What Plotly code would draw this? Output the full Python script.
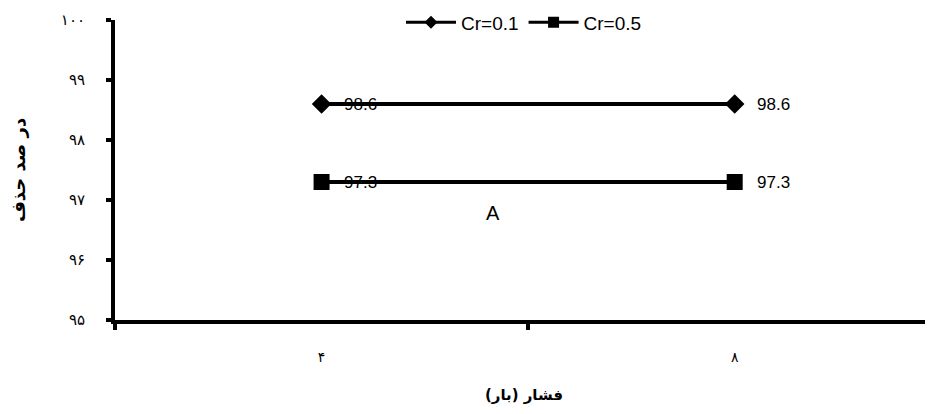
import plotly.graph_objects as go

# Data
pressure = ["۴", "۸"]
cr01 = [98.6, 98.6]
cr05 = [97.3, 97.3]
y_ticks = [95, 96, 97, 98, 99, 100]
y_tick_text = ["۹۵", "۹۶", "۹۷", "۹۸", "۹۹", "۱۰۰"]

serif = "DejaVu Sans, sans-serif"
sans = "Liberation Sans, Arial, sans-serif"

fig = go.Figure()
fig.add_trace(go.Scatter(
    x=pressure, y=cr01, name="Cr=0.1", mode="lines+markers", showlegend=False,
    line=dict(color="black", width=4),
    marker=dict(symbol="diamond", size=15, color="black"),
))
fig.add_trace(go.Scatter(
    x=pressure, y=cr05, name="Cr=0.5", mode="lines+markers", showlegend=False,
    line=dict(color="black", width=4),
    marker=dict(symbol="square", size=16, color="black"),
))

# legend entries with smaller symbols, like the original
fig.add_trace(go.Scatter(x=[None], y=[None], name="Cr=0.1", mode="lines+markers",
                         line=dict(color="black", width=3),
                         marker=dict(symbol="diamond", size=10, color="black")))
fig.add_trace(go.Scatter(x=[None], y=[None], name="Cr=0.5", mode="lines+markers",
                         line=dict(color="black", width=3),
                         marker=dict(symbol="square", size=11, color="black")))

# Data labels, offset to the right of the markers
for series in (cr01, cr05):
    for cat, v in zip(pressure, series):
        fig.add_annotation(x=cat, y=v, xref="x", yref="y", text=f"{v:.1f}",
                           showarrow=False, xanchor="left", xshift=20,
                           font=dict(family=sans, size=17, color="black"))

fig.add_annotation(x=0.415, y=96.78, xref="x", yref="y", text="A", showarrow=False,
                   font=dict(family=sans, size=20, color="black"))

# page body has an 8px margin, so the figure is a bit smaller than the window
fig.update_layout(
    width=925, height=406,
    margin=dict(l=107, r=0, t=12, b=94, autoexpand=False),
    plot_bgcolor="white", paper_bgcolor="white",
    showlegend=True,
    legend=dict(orientation="h", x=0.5, xanchor="center", y=1.055, yanchor="top",
                font=dict(family=sans, size=19, color="black"),
                bgcolor="rgba(0,0,0,0)", itemwidth=50, tracegroupgap=0),
    xaxis=dict(
        type="category", range=[-0.5, 1.48], showgrid=False, zeroline=False,
        automargin=False,
        showline=True, linecolor="black", linewidth=4,
        ticks="outside", tickson="boundaries", ticklen=6, tickwidth=4, tickcolor="black",
        ticklabelstandoff=21,
        tickfont=dict(family=serif, size=14, color="black"),
        title=dict(text="<b>فشار (بار)</b>", standoff=27,
                   font=dict(family=serif, size=15, color="black")),
    ),
    yaxis=dict(
        range=[95, 100], tickvals=y_ticks, ticktext=y_tick_text,
        showgrid=False, zeroline=False, automargin=False,
        showline=True, linecolor="black", linewidth=4,
        ticks="outside", ticklen=5, tickwidth=4, tickcolor="black",
        ticklabelstandoff=18,
        tickfont=dict(family=serif, size=15, color="black"),
        title=dict(text="<b>در صد حذف</b>", standoff=34,
                   font=dict(family=serif, size=18, color="black")),
    ),
)

fig.write_html("out.html")
